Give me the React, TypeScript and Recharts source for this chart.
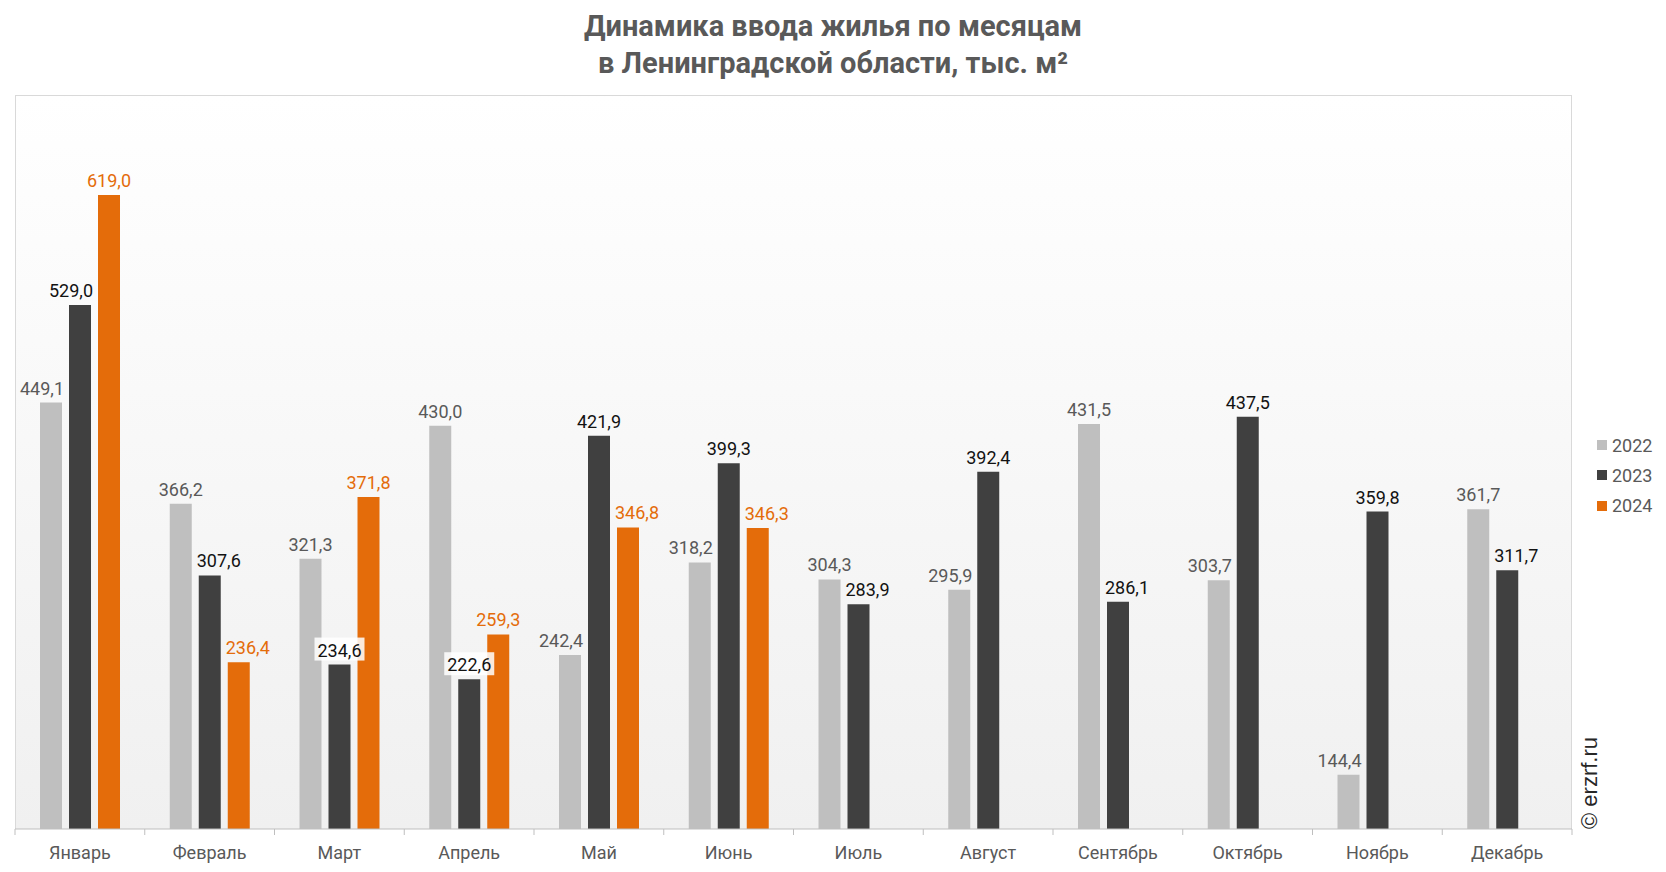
import React from "react";
import { BarChart, Bar, XAxis, YAxis, LabelList } from "recharts";

const months = [
  "Январь", "Февраль", "Март", "Апрель", "Май", "Июнь",
  "Июль", "Август", "Сентябрь", "Октябрь", "Ноябрь", "Декабрь",
];
const values2022 = [449.1, 366.2, 321.3, 430.0, 242.4, 318.2, 304.3, 295.9, 431.5, 303.7, 144.4, 361.7];
const values2023 = [529.0, 307.6, 234.6, 222.6, 421.9, 399.3, 283.9, 392.4, 286.1, 437.5, 359.8, 311.7];
const values2024 = [619.0, 236.4, 371.8, 259.3, 346.8, 346.3, null, null, null, null, null, null];

const series = [
  { key: "y2022", name: "2022", color: "#bfbfbf", labelColor: "#595959", values: values2022 },
  { key: "y2023", name: "2023", color: "#404040", labelColor: "#121212", values: values2023 },
  { key: "y2024", name: "2024", color: "#e46c0a", labelColor: "#e46c0a", values: values2024 },
];

const data = months.map((m, i) => ({
  month: m,
  y2022: values2022[i],
  y2023: values2023[i],
  y2024: values2024[i],
}));

// plot area, px
const W = 1666;
const H = 872;
const PLOT_L = 15;
const PLOT_R = 1572;
const PLOT_T = 96;
const PLOT_B = 829;
const BAND = (PLOT_R - PLOT_L) / months.length;

const fmt = (v: number) => v.toFixed(1).replace(".", ",");

// labels move away from a taller neighbouring bar, like Excel does
function makeLabel(si: number) {
  const s = series[si];
  return (props: any) => {
    const { x, y, width, value, index } = props;
    if (value == null) return null;
    const v = Number(value);
    const left = si > 0 ? series[si - 1].values[index] : null;
    const right = si < series.length - 1 ? series[si + 1].values[index] : null;
    const leftHigher = left != null && left > v;
    const rightHigher = right != null && right > v;
    let shift = 0;
    if (rightHigher && !leftHigher) shift = -9;
    if (leftHigher && !rightHigher) shift = 9;
    const box = leftHigher && rightHigher;
    const cx = Number(x) + Number(width) / 2 + shift;
    const text = fmt(v);
    const tw = text.length * 9.2;
    return (
      <g>
        {box && (
          <rect x={cx - tw / 2 - 2} y={Number(y) - 27} width={tw + 4} height={23} fill="#ffffff" fillOpacity={0.85} />
        )}
        <text x={cx} y={Number(y) - 8} textAnchor="middle" fill={s.labelColor} fontSize={18} fontFamily="Roboto, sans-serif">
          {text}
        </text>
      </g>
    );
  };
}

const MonthTick = (props: any) => {
  const { x, y, payload, index } = props;
  const left = x - BAND / 2;
  return (
    <g>
      <line x1={left} x2={left} y1={PLOT_B} y2={PLOT_B + 6} stroke="#bfbfbf" />
      {index === months.length - 1 && (
        <line x1={x + BAND / 2} x2={x + BAND / 2} y1={PLOT_B} y2={PLOT_B + 6} stroke="#bfbfbf" />
      )}
      <text x={x} y={y + 22} textAnchor="middle" fill="#595959" fontSize={18} fontFamily="Roboto, sans-serif">
        {payload.value}
      </text>
    </g>
  );
};

export default function App() {
  return (
    <div style={{ position: "absolute", left: 0, top: 0, width: W, height: H, background: "#fff", fontFamily: "Roboto, sans-serif" }}>
      <div
        style={{
          position: "absolute",
          left: 0,
          top: 8,
          width: W,
          textAlign: "center",
          color: "#595959",
          fontFamily: "Roboto, sans-serif",
          fontWeight: "bold",
          fontSize: 29,
          lineHeight: "37px",
        }}
      >
        Динамика ввода жилья по месяцам
        <br />в Ленинградской области, тыс. м²
      </div>
      <div
        style={{
          position: "absolute",
          left: PLOT_L,
          top: PLOT_T - 1,
          width: PLOT_R - PLOT_L,
          height: PLOT_B - PLOT_T + 1,
          boxSizing: "border-box",
          border: "1px solid #d9d9d9",
          borderBottom: "none",
          background: "linear-gradient(#ffffff, #f0f0f0)",
        }}
      />
      <div style={{ position: "absolute", left: 0, top: 0 }}>
        <BarChart
          width={W}
          height={H}
          data={data}
          margin={{ top: PLOT_T, right: W - PLOT_R, left: PLOT_L, bottom: H - PLOT_B - 30 }}
          barSize={22}
          barGap={7}
        >
          <XAxis
            dataKey="month"
            height={30}
            axisLine={{ stroke: "#bfbfbf" }}
            tickLine={false}
            tick={<MonthTick />}
            interval={0}
          />
          <YAxis hide domain={[100, 700]} />
          {series.map((s, si) => (
            <Bar key={s.key} dataKey={s.key} name={s.name} fill={s.color} isAnimationActive={false}>
              <LabelList dataKey={s.key} content={makeLabel(si)} />
            </Bar>
          ))}
        </BarChart>
      </div>
      <div style={{ position: "absolute", left: 1597, top: 430 }}>
        {series.map((s) => (
          <div key={s.key} style={{ display: "flex", alignItems: "center", height: 30.3, color: "#595959", fontSize: 18 }}>
            <span style={{ width: 10, height: 10, background: s.color, marginRight: 5, display: "inline-block" }} />
            {s.name}
          </div>
        ))}
      </div>
      <div
        style={{
          position: "absolute",
          left: 1590,
          top: 829,
          transform: "rotate(-90deg)",
          transformOrigin: "0 0",
          whiteSpace: "nowrap",
          fontFamily: "'Liberation Sans', Arial, sans-serif",
          fontSize: 22,
          color: "#262626",
          lineHeight: "24px",
        }}
      >
        <span style={{ position: "relative", top: -12 }}>© erzrf.ru</span>
      </div>
    </div>
  );
}
